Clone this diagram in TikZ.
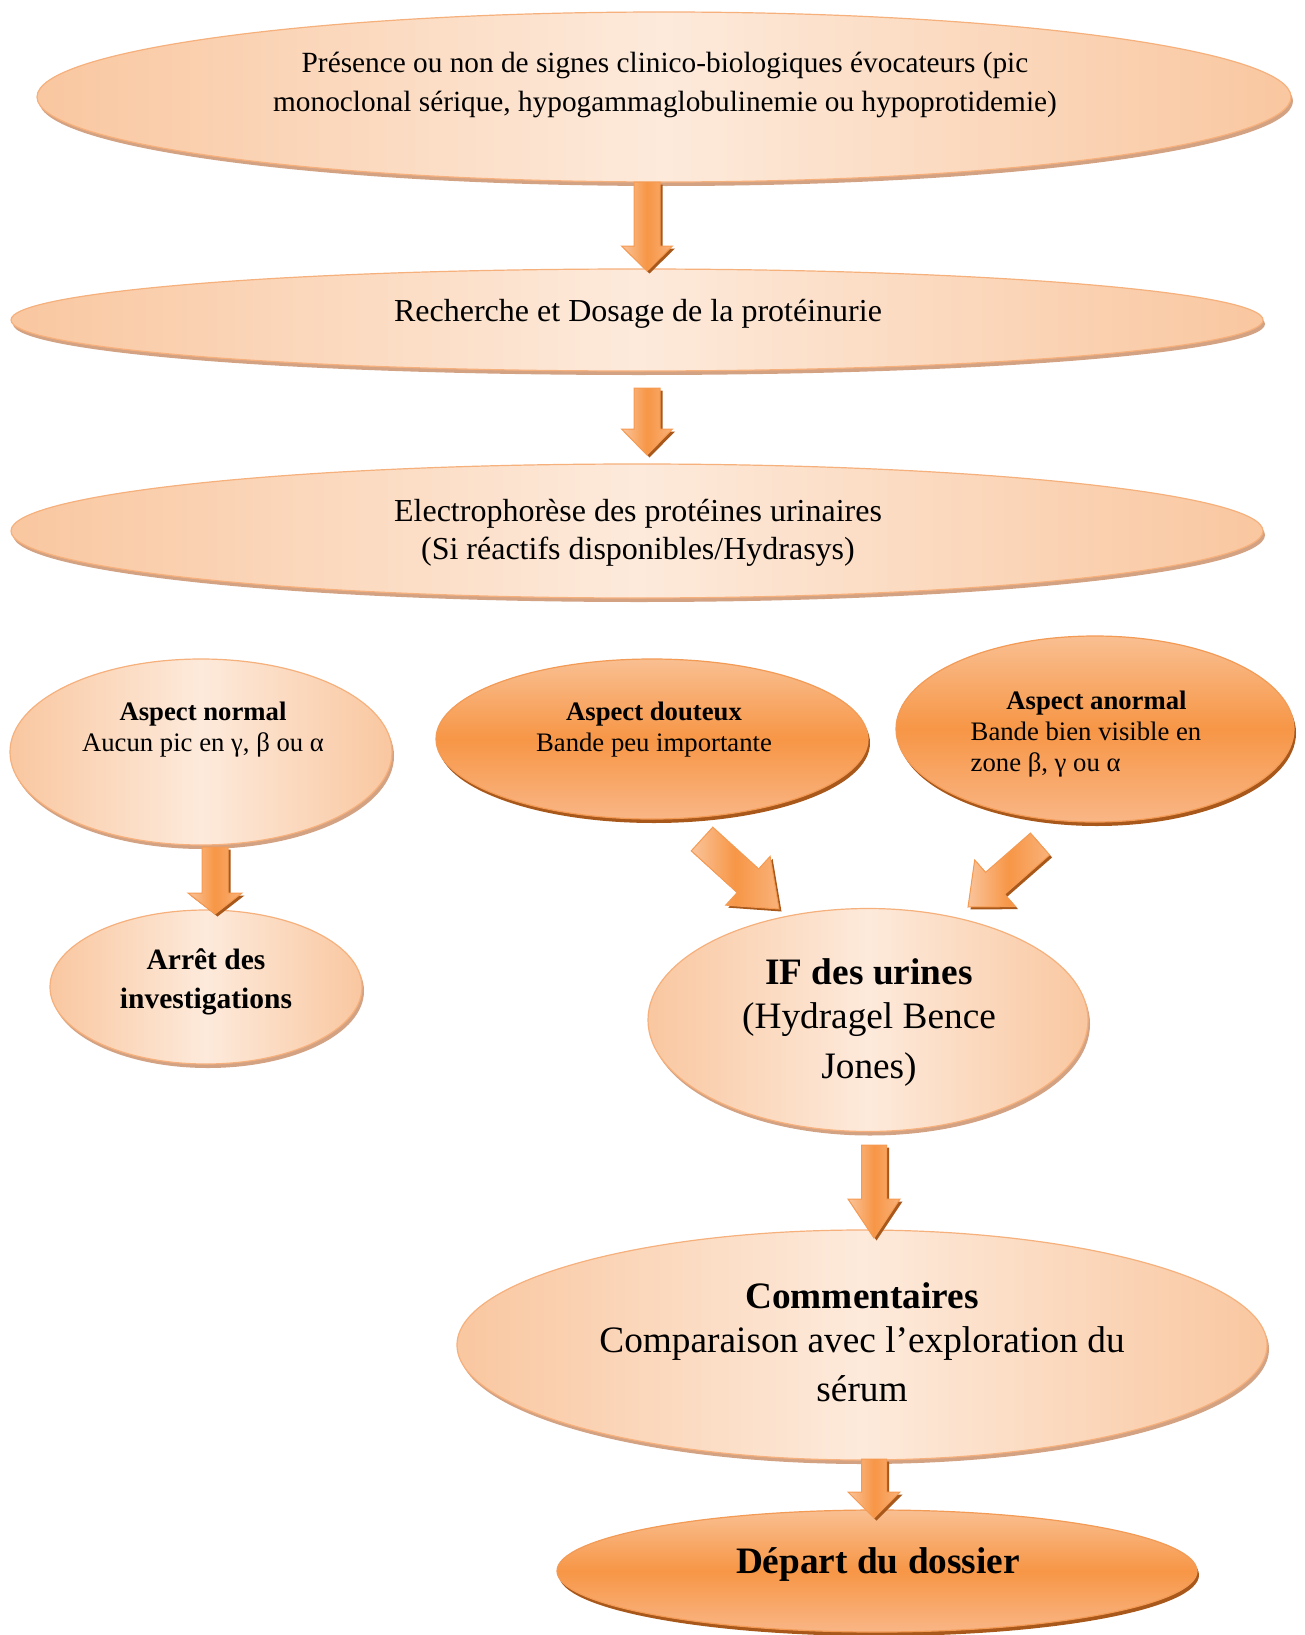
\documentclass[tikz,border=0pt]{standalone}
\usepackage{fontspec}
\setmainfont{Liberation Serif}
\usetikzlibrary{shapes.geometric,calc,shadows}

\definecolor{peachlight}{HTML}{FDEADB}
\definecolor{peachedge}{HTML}{F9C7A0}
\definecolor{peachline}{HTML}{F6B07C}
\definecolor{peachshadow}{HTML}{D3A283}
\definecolor{orangetop}{HTML}{F9BF91}
\definecolor{orangemain}{HTML}{F79646}
\definecolor{orangebottom}{HTML}{F9B686}
\definecolor{orangeline}{HTML}{F39A55}
\definecolor{orangeshadow}{HTML}{A9581B}
\definecolor{arrowlight}{HTML}{FAC49B}
\definecolor{arrowtip}{HTML}{F9B27A}
\definecolor{arrowline}{HTML}{F59A52}

\tikzset{
  paleoval/.style={ellipse, inner sep=0pt, draw=peachline, line width=1.2pt,
    left color=peachedge, right color=peachedge, middle color=peachlight,
    drop shadow={shadow xshift=2pt, shadow yshift=-4pt, fill=peachshadow, opacity=1}},
  darkoval/.style={ellipse, inner sep=0pt, draw=orangeline, line width=1.2pt,
    top color=orangetop, bottom color=orangebottom, middle color=orangemain,
    drop shadow={shadow xshift=2pt, shadow yshift=-4pt, fill=orangeshadow, opacity=1}},
  txtbig/.style={align=center, inner sep=0pt, font=\fontsize{32}{38.5}\selectfont},
  txttop/.style={align=center, inner sep=0pt, font=\fontsize{29.3}{38.5}\selectfont},
  txtsmall/.style={align=center, inner sep=0pt, font=\fontsize{26.7}{31}\selectfont},
  txtmid/.style={align=center, inner sep=0pt, font=\fontsize{29.5}{39}\selectfont\bfseries},
  txthuge/.style={align=center, inner sep=0pt, font=\fontsize{37.3}{44}\selectfont},
  arrowbody/.style={draw=arrowline, line width=1pt, line join=miter,
    left color=arrowlight, right color=arrowtip, middle color=orangemain},
  arrowshade/.style={fill=orangeshadow},
}

% block arrow from #1 to #2: shaft half width #3, head half width #4, head length #5
\newcommand\fatarrow[5]{%
  \path let \p1=($(#2)-(#1)$) in \pgfextra{%
    \pgfmathsetmacro\fatang{atan2(\y1,\x1)}%
    \pgfmathsetmacro\fatlen{veclen(\x1,\y1)}%
    \xdef\fatang{\fatang}\xdef\fatlen{\fatlen}};
  \begin{scope}[shift={(#1)}, xshift=2.5pt, yshift=-2.5pt, rotate=\fatang]
    \fill[arrowshade] (0pt,#3) -- ({\fatlen pt-#5},#3) -- ({\fatlen pt-#5},#4)
      -- (\fatlen pt,0pt) -- ({\fatlen pt-#5},-#4) -- ({\fatlen pt-#5},-#3)
      -- (0pt,-#3) -- cycle;
  \end{scope}
  \begin{scope}[shift={(#1)}, rotate=\fatang]
    \draw[arrowbody] (0pt,#3) -- ({\fatlen pt-#5},#3) -- ({\fatlen pt-#5},#4)
      -- (\fatlen pt,0pt) -- ({\fatlen pt-#5},-#4) -- ({\fatlen pt-#5},-#3)
      -- (0pt,-#3) -- cycle;
  \end{scope}
}

\begin{document}
\begin{tikzpicture}[x=1pt, y=-1pt]
\useasboundingbox (0,0) rectangle (1304,1635);
\fill[white] (0,0) rectangle (1304,1635);

% ovals
\node[paleoval, minimum width=1254pt, minimum height=170pt] (e1) at (664,97) {};
\node[paleoval, minimum width=1252pt, minimum height=102pt] (e2) at (637,320) {};
\node[paleoval, minimum width=1252pt, minimum height=134pt] (e3) at (637,531) {};
\node[paleoval, minimum width=382pt, minimum height=186pt] (eN) at (201,752) {};
\node[paleoval, minimum width=312pt, minimum height=154pt] (eA) at (206,987) {};
\node[darkoval, minimum width=432pt, minimum height=160pt] (eD) at (652,739) {};
\node[darkoval, minimum width=398pt, minimum height=186pt] (eAn) at (1095,729) {};
\node[paleoval, minimum width=440pt, minimum height=223pt] (eIF) at (868,1020) {};
\node[paleoval, minimum width=810pt, minimum height=230pt] (eC) at (862,1345) {};
\node[darkoval, minimum width=640pt, minimum height=122pt] (eDep) at (877,1571) {};

% texts
\node[txttop] (t1) at (665,85) {Présence ou non de signes clinico-biologiques évocateurs (pic\\monoclonal sérique, hypogammaglobulinemie ou hypoprotidemie)};
\node[txtbig] (t2) at (638,314) {Recherche et Dosage de la protéinurie};
\node[txtbig] (t3) at (638,533) {Electrophorèse des protéines urinaires\\(Si réactifs disponibles/Hydrasys)};
\node[txtsmall] (tN) at (203,730) {\textbf{Aspect normal}\\Aucun pic en γ, β ou α};
\node[txtmid] (tA) at (206,982) {Arrêt des\\investigations};
\node[txtsmall] (tD) at (654,730) {\textbf{Aspect douteux}\\Bande peu importante};
\node[txtsmall] (tAn) at (1086,734) {\begin{tabular}{@{}l@{}}\multicolumn{1}{@{\hskip 21pt}c@{}}{\textbf{Aspect anormal}}\\Bande bien visible en\\zone β, γ ou α\end{tabular}};
\node[txthuge] (tIF) at (869,1023) {\textbf{IF des urines}\\(Hydragel Bence\\[6pt]Jones)};
\node[txthuge] (tC) at (862,1342) {\textbf{Commentaires}\\Comparaison avec l’exploration du\\[5pt]sérum};
\node[txthuge, font=\fontsize{37.3}{44}\selectfont\bfseries] (tDep) at (878,1564) {Départ du dossier};

% arrow end points
\coordinate (a1s) at (647,182);  \coordinate (a1t) at (647,271);
\coordinate (a2s) at (647,388);  \coordinate (a2t) at (647,455);
\coordinate (a3s) at (215,847);  \coordinate (a3t) at (215,914);
\coordinate (a4s) at (702,839);  \coordinate (a4t) at (779,909);
\coordinate (a5s) at (1040,844); \coordinate (a5t) at (968,907);
\coordinate (a6s) at (874,1145); \coordinate (a6t) at (874,1238);
\coordinate (a7s) at (874,1459); \coordinate (a7t) at (874,1518);

% arrows
\fatarrow{a1s}{a1t}{13pt}{25.5pt}{25pt}
\fatarrow{a2s}{a2t}{13pt}{25.5pt}{26pt}
\fatarrow{a3s}{a3t}{13pt}{27pt}{21pt}
\fatarrow{a4s}{a4t}{16pt}{33pt}{42pt}
\fatarrow{a5s}{a5t}{14.5pt}{31pt}{36pt}
\fatarrow{a6s}{a6t}{12.5pt}{26pt}{39pt}
\fatarrow{a7s}{a7t}{12.5pt}{26pt}{26pt}
\end{tikzpicture}
\end{document}
